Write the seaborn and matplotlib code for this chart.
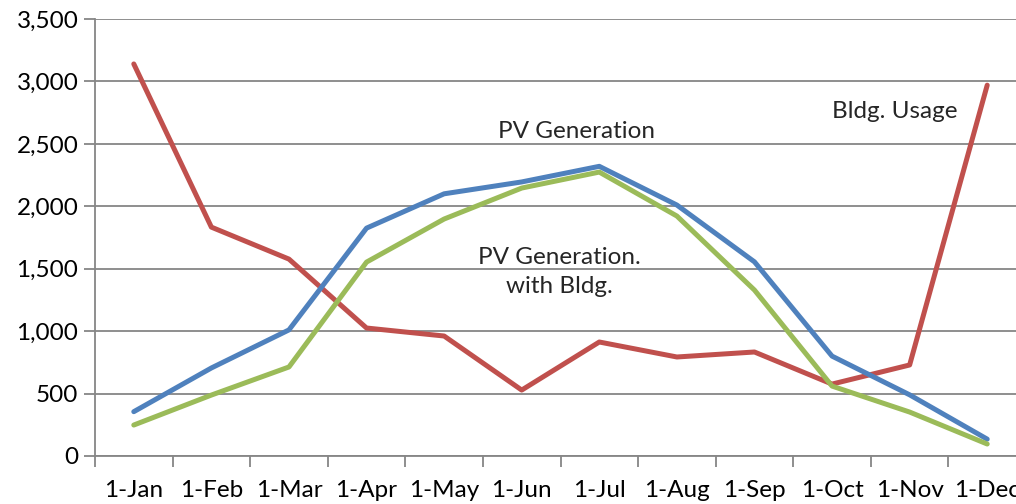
import numpy as np
import pandas as pd
import matplotlib
matplotlib.use("Agg")
import matplotlib.pyplot as plt
import seaborn as sns
from matplotlib.ticker import FixedLocator, FuncFormatter

# Data (monthly values)
MONTHS = ['1-Jan', '1-Feb', '1-Mar', '1-Apr', '1-May', '1-Jun',
          '1-Jul', '1-Aug', '1-Sep', '1-Oct', '1-Nov', '1-Dec']
PV_GEN = [355, 705, 1010, 1825, 2100, 2195, 2320, 2010, 1555, 800, 490, 135]
PV_BLDG = [248, 488, 713, 1553, 1898, 2146, 2274, 1922, 1329, 560, 352, 96]
BLDG_USAGE = [3140, 1833, 1577, 1025, 961, 528, 913, 793, 833, 576, 729, 2970]

BLUE = '#4F81BD'
RED = '#C0504D'
GREEN = '#9BBB59'
GRID = '#868686'
FS = 17.5

sns.set_theme(style="white")
plt.rcParams['font.family'] = ['Lato', 'DejaVu Sans']

df = pd.DataFrame({
    'pos': np.arange(len(MONTHS)),
    'month': MONTHS,
    'PV Generation': PV_GEN,
    'PV Generation with Bldg.': PV_BLDG,
    'Bldg. Usage': BLDG_USAGE,
})

fig = plt.figure(figsize=(10.16, 5.04), dpi=100)
ax = fig.add_axes([95 / 1016, 48 / 504, 931 / 1016, 437 / 504])

for col, color in [('Bldg. Usage', RED), ('PV Generation', BLUE),
                   ('PV Generation with Bldg.', GREEN)]:
    sns.lineplot(data=df, x='pos', y=col, color=color, lw=3.6, ax=ax,
                 legend=False, solid_capstyle='round', solid_joinstyle='round')

ax.set_xlim(-0.5, len(MONTHS) - 0.5)
ax.set_ylim(0, 3500)
ax.set_xlabel('')
ax.set_ylabel('')

# y axis: horizontal gridlines only
ax.yaxis.set_major_locator(FixedLocator(np.arange(0, 3501, 500)))
ax.yaxis.set_major_formatter(FuncFormatter(lambda v, p: f'{int(v):,}'))
ax.grid(axis='y', color=GRID, lw=1.3)
ax.grid(axis='x', visible=False)
ax.set_axisbelow(True)

# x axis: tick marks at category boundaries, labels at centres
ax.xaxis.set_major_locator(FixedLocator(np.arange(-0.5, len(MONTHS), 1.0)))
ax.xaxis.set_major_formatter(FuncFormatter(lambda v, p: ''))
ax.xaxis.set_minor_locator(FixedLocator(df['pos']))
ax.set_xticklabels(MONTHS, minor=True)
ax.tick_params(axis='x', which='major', length=8, width=1.3, color=GRID,
               direction='out', bottom=True)
ax.tick_params(axis='x', which='minor', length=0, pad=17, labelsize=FS,
               labelcolor='black')
ax.tick_params(axis='y', which='major', length=8, width=1.3, color=GRID,
               direction='out', left=True, labelsize=FS, labelcolor='black',
               pad=4)

for side in ['top', 'right']:
    ax.spines[side].set_visible(False)
for side in ['left', 'bottom']:
    ax.spines[side].set_color(GRID)
    ax.spines[side].set_linewidth(1.3)

# series labels inside the plot
ax.text(5.71, 2602, 'PV Generation', fontsize=FS, ha='center', va='center')
ax.text(5.49, 1473, 'PV Generation.\nwith Bldg.', fontsize=FS, ha='center',
        va='center', linespacing=1.45)
ax.text(9.81, 2762, 'Bldg. Usage', fontsize=FS, ha='center', va='center')

fig.savefig('out.png', dpi=100)
